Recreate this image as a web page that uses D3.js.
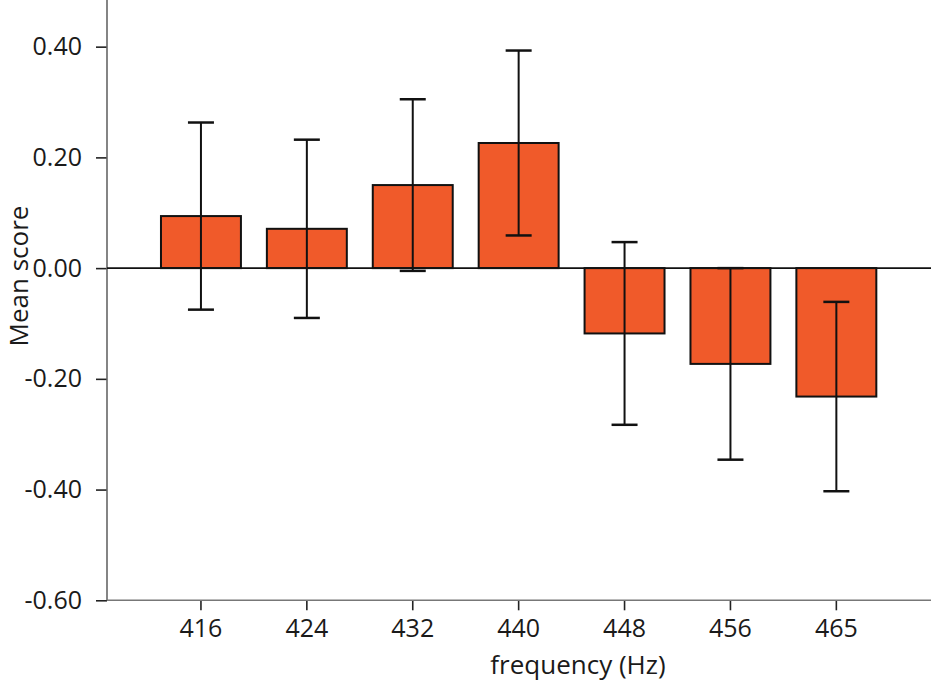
<!DOCTYPE html>
<html>
<head>
<meta charset="utf-8">
<script src="https://cdn.jsdelivr.net/npm/d3@7"></script>
<style>
  body { margin: 0; background: #fff; }
  text { font-family: "Open Sans", sans-serif; fill: #1a1a1a; }
</style>
</head>
<body>
<div id="chart"></div>
<script>
// frequencies and mean scores with error bar half-lengths
const freqs = ["416", "424", "432", "440", "448", "456", "465"];
const means = [0.094, 0.071, 0.150, 0.226, -0.118, -0.173, -0.232];
const errs = [0.169, 0.161, 0.155, 0.167, 0.165, 0.173, 0.171];
const yTicks = [-0.6, -0.4, -0.2, 0, 0.2, 0.4];

const W = 931, H = 683;
const left = 107, right = 931;

let data = freqs.map((f, i) => ({ freq: f, mean: means[i], err: errs[i] }));

let svg = d3.select("#chart")
    .append("svg")
    .attr("width", W)
    .attr("height", H);

let x = d3.scaleBand()
    .domain(freqs)
    .range([148, 889.3])
    .paddingInner(0.245)
    .paddingOuter(0.1225);

let y = d3.scaleLinear()
    .domain([-0.6, 0.5])
    .range([600.3, -8.7]);

// ---- AXES ----
let xAxis = d3.axisBottom(x)
    .tickSize(10)
    .tickSizeOuter(0)
    .tickPadding(9);

let yAxis = d3.axisLeft(y)
    .tickValues(yTicks)
    .tickSize(11)
    .tickSizeOuter(0)
    .tickPadding(14)
    .tickFormat(d => d.toFixed(2));

let xg = svg.append("g")
    .attr("transform", "translate(0," + y(-0.6) + ")")
    .call(xAxis);
xg.select(".domain").remove();

let yg = svg.append("g")
    .attr("transform", "translate(" + left + ",0)")
    .call(yAxis);
yg.select(".domain").remove();

[xg, yg].forEach(g => {
    g.selectAll(".tick line").attr("stroke", "#222").attr("stroke-width", 1.6);
    g.selectAll(".tick text")
        .style("font-size", "25px")
        .style("font-family", "'Open Sans', sans-serif")
        .attr("fill", "#1a1a1a");
});

// axis lines
svg.append("line")
    .attr("x1", left).attr("x2", left)
    .attr("y1", y(-0.6)).attr("y2", 0)
    .attr("stroke", "#666").attr("stroke-width", 1.6);

svg.append("line")
    .attr("x1", left).attr("x2", right)
    .attr("y1", y(-0.6)).attr("y2", y(-0.6))
    .attr("stroke", "#777").attr("stroke-width", 1.6);

// ---- BARS ----
svg.selectAll(".bar")
    .data(data)
    .enter()
    .append("rect")
    .attr("class", "bar")
    .attr("x", d => x(d.freq))
    .attr("width", x.bandwidth())
    .attr("y", d => y(Math.max(0, d.mean)))
    .attr("height", d => Math.abs(y(d.mean) - y(0)))
    .attr("fill", "#F05A2A")
    .attr("stroke", "#111")
    .attr("stroke-width", 2);

// zero line
svg.append("line")
    .attr("x1", left).attr("x2", right)
    .attr("y1", y(0)).attr("y2", y(0))
    .attr("stroke", "#111").attr("stroke-width", 1.6);

// ---- ERROR BARS ----
let cx = d => x(d.freq) + x.bandwidth() / 2;
let capW = 13;

let eb = svg.selectAll(".err")
    .data(data)
    .enter()
    .append("g")
    .attr("class", "err");

eb.append("line")
    .attr("x1", cx).attr("x2", cx)
    .attr("y1", d => y(d.mean + d.err))
    .attr("y2", d => y(d.mean - d.err))
    .attr("stroke", "#111").attr("stroke-width", 2);

eb.append("line")
    .attr("x1", d => cx(d) - capW).attr("x2", d => cx(d) + capW)
    .attr("y1", d => y(d.mean + d.err)).attr("y2", d => y(d.mean + d.err))
    .attr("stroke", "#111").attr("stroke-width", 2.5);

eb.append("line")
    .attr("x1", d => cx(d) - capW).attr("x2", d => cx(d) + capW)
    .attr("y1", d => y(d.mean - d.err)).attr("y2", d => y(d.mean - d.err))
    .attr("stroke", "#111").attr("stroke-width", 2.5);

// ---- TITLES ----
svg.append("text")
    .attr("text-anchor", "middle")
    .attr("transform", "translate(28,276) rotate(-90)")
    .style("font-size", "26px")
    .text("Mean score");

svg.append("text")
    .attr("text-anchor", "middle")
    .attr("x", 578)
    .attr("y", 674)
    .style("font-size", "26px")
    .text("frequency (Hz)");
</script>
</body>
</html>
